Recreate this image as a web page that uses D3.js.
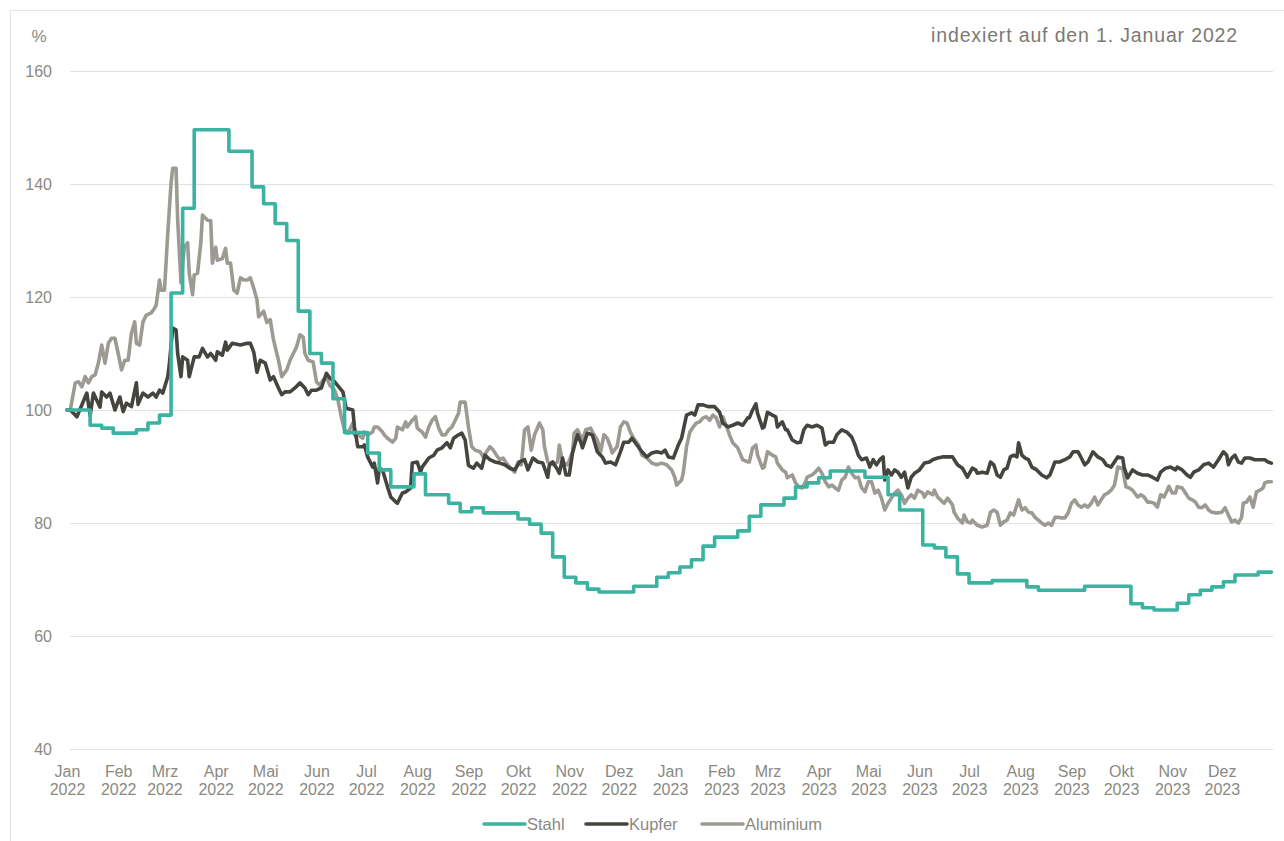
<!DOCTYPE html>
<html><head><meta charset="utf-8">
<script src="https://cdn.jsdelivr.net/npm/d3@7"></script>
<style>
body{margin:0;background:#fff;}
svg{display:block;font-family:"Liberation Sans",Arial,Helvetica,sans-serif;}
</style></head>
<body><svg id="chart" width="1284" height="841"></svg>
<script>
// ---- data ----
const monthNames = ["Jan","Feb","Mrz","Apr","Mai","Jun","Jul","Aug","Sep","Okt","Nov","Dez"];
const yTicks = [40,60,80,100,120,140,160];
const seriesNames = ["Stahl","Kupfer","Aluminium"];
const seriesColors = ["#3bb3a1","#46443f","#9c9a93"];
// Stahl: weekly values starting 2022-01-01
const stahlWeekly = [100,100,97.3,96.8,95.9,95.9,96.5,97.7,99.1,120.7,135.7,149.6,149.6,149.6,145.8,145.8,139.5,136.5,133,130,117.5,110,108.3,102,96,96,92.4,89.4,86.4,86.4,88.7,85,85,83.5,82,82.7,81.8,81.8,81.8,80.7,79.8,78.2,74,70.4,69.4,68.3,67.8,67.8,67.8,68.8,68.8,70.4,71.2,72.2,73.5,75.9,77.5,77.5,78.6,81.2,83.2,83.2,84.4,86.4,87.1,88,89.2,89.2,89.2,88.1,88.1,85,82.3,82.3,76.1,75.6,74,71,69.4,69.4,69.8,69.8,69.8,68.7,68.1,68.1,68.1,68.1,68.8,68.8,68.8,68.8,65.7,65,64.6,64.6,65.8,67.3,68.1,68.7,69.6,70.8,70.8,71.3,71.3];
// Kupfer / Aluminium: [days since 2022-01-01, index value]
const kupfer = [[0,100],[2,100],[6,98.8],[12,103],[14,99],[16,103],[20,100.5],[21,103.2],[24,102.3],[26,103],[29,100],[32,102.3],[34,99.7],[36,101.2],[39,100.6],[42,104.8],[43,101],[46,103],[49,102.3],[52,103],[54,102.3],[56,103.5],[58,103],[61,105.9],[62,108.3],[64,114.5],[66,114.2],[67,110],[69,105.9],[70,109.4],[73,108.8],[74,105.9],[77,109.4],[80,109.4],[82,110.9],[85,109.4],[87,110],[90,108.8],[91,110.3],[94,109.7],[96,112],[97,110.6],[100,111.8],[105,111.5],[109,111.8],[111,111.8],[113,110.3],[115,106.7],[117,108.8],[120,108.3],[123,105.3],[125,105.9],[128,103.9],[130,102.7],[132,103.2],[135,103.2],[138,103.9],[141,104.8],[144,103.9],[146,102.7],[148,103.5],[151,103.5],[154,103.9],[157,106.5],[159,105.7],[162,105],[165,103.9],[167,103.2],[169,100.3],[173,100],[174,97],[176,93.5],[179,93.5],[180,93.8],[182,91.7],[185,89.9],[186,90.6],[188,87.1],[189,89.7],[191,89.4],[194,86.4],[196,84.6],[199,83.7],[200,83.5],[203,85.3],[205,85.5],[208,86.2],[209,90.6],[212,90.8],[214,89],[215,89.9],[219,91.5],[222,92],[224,92.9],[227,93.3],[230,94.2],[232,93.3],[234,95],[237,95.6],[239,95.9],[241,94.7],[243,90.2],[246,89.7],[248,90.6],[251,89.7],[253,92],[256,91.2],[259,90.8],[262,90.6],[265,90.3],[268,89.7],[271,89.4],[274,90.8],[277,91.2],[279,89.4],[282,91.5],[285,90.8],[288,90.6],[291,88.1],[292,90.3],[294,90.8],[297,89.4],[298,88.8],[300,91.5],[302,88.5],[304,88.5],[306,92.4],[309,95.6],[311,94.3],[312,93.3],[315,95.9],[318,95.6],[321,92.6],[324,91.7],[326,90.6],[329,90.8],[332,90.3],[335,92.6],[337,94.3],[340,94.3],[342,95],[345,93.8],[348,92.6],[351,91.7],[354,92.4],[357,92.6],[360,92.4],[362,92.9],[364,91.7],[367,91.5],[370,93.8],[372,95],[375,99.1],[378,99.5],[380,99.1],[382,100.9],[385,100.9],[388,100.6],[392,100.6],[395,99.6],[397,97.7],[400,97],[403,97.3],[406,97.7],[409,97.3],[412,98.6],[413,98.6],[415,100],[417,101.1],[418,99.4],[421,96.8],[422,97],[424,99.6],[427,99.1],[429,98.8],[430,97],[433,97.9],[435,96.5],[436,96.5],[439,94.7],[442,94.2],[444,94.3],[446,96.5],[448,97.3],[451,97],[454,97.3],[457,96.8],[459,93.8],[461,94.3],[464,94.3],[466,95.6],[469,96.5],[472,96.1],[475,95.2],[477,93.8],[479,92],[481,91.2],[484,91.5],[486,89.9],[488,91.2],[490,90.3],[492,91.2],[494,91.7],[495,87.6],[497,89.4],[499,88.5],[501,89.4],[503,89],[505,88.1],[507,89],[509,86.2],[511,88.1],[513,88.8],[516,89.4],[519,90.6],[522,90.8],[524,91.2],[527,91.5],[530,91.7],[533,91.7],[536,91.7],[539,90.3],[542,89.7],[545,88.1],[548,89.7],[550,89.4],[551,88.8],[554,89],[557,88.8],[559,90.8],[561,90.3],[563,88.5],[565,88.1],[567,89.4],[569,89.7],[571,91.7],[573,92],[575,91.7],[576,94.2],[578,92],[580,91.5],[582,91.2],[584,89.9],[587,89.4],[590,88.5],[593,88],[595,88.5],[598,90.8],[601,90.8],[604,91.2],[607,91.7],[609,92.6],[612,92.6],[614,91.5],[616,90.3],[618,90.8],[621,92.6],[624,91.7],[627,91.2],[629,90.3],[632,89.9],[634,90.8],[636,91.7],[639,91.5],[640,89.7],[642,88],[645,89.4],[648,88.8],[651,88.5],[654,88.5],[657,88.1],[660,87.6],[662,89],[665,89.7],[668,89.9],[671,89.4],[672,89.9],[675,89.4],[678,88.5],[680,88.1],[682,89],[685,89.4],[688,90.3],[691,90.6],[694,89.9],[697,91.2],[700,92.6],[702,92],[703,90.3],[705,91.5],[707,92],[709,90.8],[711,90.6],[713,91.5],[716,91.5],[719,91.2],[722,91.2],[725,91.2],[727,90.8],[729,90.6]];
const aluminium = [[0,100],[2,100],[5,104.8],[7,105],[9,104.1],[11,105.9],[13,104.8],[15,105.9],[17,106.2],[19,108.3],[21,111.5],[23,108.3],[25,111.8],[27,112.7],[29,112.7],[31,110],[33,107.1],[35,108.8],[37,108.8],[39,113.6],[41,115.6],[42,111.8],[44,111.5],[46,115.6],[48,116.8],[51,117.2],[53,118],[54,118.6],[56,123],[57,121.2],[59,121.2],[61,131.3],[63,140.2],[64,142.8],[66,142.8],[67,133.6],[69,122.5],[71,128.8],[73,129.6],[74,124.2],[76,120.4],[77,123.9],[79,124.2],[81,129.6],[82,134.5],[85,133.6],[87,133.5],[88,126],[90,128.8],[91,126.5],[94,126.8],[96,128.6],[97,126],[99,126],[101,121.2],[103,120.7],[105,123.4],[107,123],[109,123],[111,123.4],[113,121.6],[115,119.5],[116,116.5],[119,117.5],[121,115.5],[123,116],[125,112.4],[128,108.8],[130,105.9],[133,107.1],[135,108.8],[137,110],[139,111.2],[141,113.3],[143,112.9],[144,110],[146,108.8],[149,108.5],[151,105],[153,104.4],[155,105.3],[157,105.9],[159,104.4],[162,103.5],[164,101.8],[166,98.8],[168,96.5],[170,95.9],[173,97.7],[174,95.6],[176,95.6],[179,95],[180,96.1],[182,95.6],[185,96.1],[186,97],[188,97],[191,96.1],[192,95.6],[194,95],[197,94.3],[199,95],[200,97],[203,96.5],[205,97.9],[206,97],[209,98.2],[211,98.8],[212,96.8],[215,96.1],[217,95.2],[219,97],[221,98.2],[223,98.8],[225,96.8],[227,95.6],[229,95.6],[231,96.5],[233,97],[235,98.2],[237,99.4],[238,101.4],[241,101.4],[243,97],[245,93.5],[247,92.9],[250,92.6],[252,91.7],[254,92.6],[256,93.5],[258,92.9],[260,92],[262,91.2],[264,91.5],[266,90.6],[268,89.9],[271,89],[273,90.8],[275,90.3],[277,96.5],[279,97],[281,92.9],[283,95.6],[286,97.7],[288,96.5],[289,93.5],[291,90.8],[294,90.3],[297,90.8],[298,93.8],[300,90.8],[303,90.3],[306,92.6],[307,95.9],[309,96.5],[312,94.7],[314,96.5],[317,96.8],[318,96.1],[321,94.7],[323,92.6],[325,95.6],[327,95],[329,93.5],[330,92.4],[333,93.5],[335,97],[337,97.9],[339,97.7],[341,96.1],[343,95],[346,93.8],[348,92],[351,91.5],[354,90.6],[357,90.3],[360,90.6],[363,90.3],[366,89.4],[368,88],[369,86.7],[372,87.6],[373,88.8],[375,93.5],[377,96.1],[379,97],[381,97.7],[383,97.9],[385,98.6],[387,98.8],[389,98.2],[391,99.1],[393,98.6],[395,97],[397,98.8],[400,96.5],[401,95.6],[403,94.2],[406,93.3],[407,92.6],[409,91.2],[412,90.8],[413,90.8],[415,93.3],[417,93.8],[418,92],[421,89.7],[422,89.9],[424,92.6],[427,92],[429,91.7],[430,90.6],[433,89.4],[435,89],[436,88],[439,88.5],[441,87.1],[443,86.4],[445,86.2],[447,87.3],[448,88.1],[451,88.5],[453,89],[455,89.7],[457,88.8],[459,87.3],[461,86.4],[463,86.7],[465,86.2],[467,85.8],[469,87.6],[471,88.1],[473,89.9],[475,88.8],[477,88],[479,88.1],[481,86.2],[483,85.5],[485,87.3],[487,87.3],[489,85.3],[491,85.8],[493,84.4],[495,82.3],[497,83.5],[499,84.4],[501,85.3],[503,85.8],[505,85],[507,83.5],[509,84.4],[511,85],[513,84.4],[515,85.8],[518,85.3],[519,84.6],[521,85.5],[524,85],[525,85.8],[527,84.6],[530,83.7],[531,83.5],[533,84.4],[536,83.2],[537,81.9],[539,80.9],[542,80],[543,81.4],[545,80.2],[547,80],[548,80.5],[551,79.6],[554,79.3],[557,79.6],[559,81.9],[561,82.3],[563,81.9],[565,79.6],[567,80.2],[569,80.5],[571,81.8],[573,81.4],[574,82.3],[576,84.1],[578,82.3],[580,82.7],[582,81.9],[584,81.8],[586,81],[588,80.5],[590,80],[592,79.6],[594,80],[596,79.6],[598,81],[600,81],[602,80.9],[604,80.9],[606,81.8],[608,83.5],[610,84.1],[612,83.2],[614,82.8],[616,83.2],[618,82.8],[620,83.5],[622,84.6],[624,83.2],[626,84.1],[628,85],[630,85.3],[632,85.8],[634,86.7],[635,88.1],[636,89.9],[639,89.7],[640,88],[641,86.4],[643,86.2],[645,85.8],[648,84.6],[650,85],[652,84.6],[654,83.7],[656,83.7],[658,83.5],[660,82.8],[662,85],[664,84.6],[666,85.8],[667,86.5],[669,85.3],[671,85.3],[672,86.4],[675,86.2],[677,85.3],[679,84.4],[681,84.1],[683,83.7],[685,82.8],[687,82.7],[689,83.2],[691,82.3],[693,81.9],[695,81.8],[697,81.8],[699,81.9],[701,82.7],[703,81.4],[705,80.2],[707,80.5],[709,80],[711,81],[712,83.5],[714,83.7],[716,84.6],[718,82.8],[720,85.5],[722,85.8],[724,86.2],[725,87.1],[727,87.3],[729,87.3]];

// ---- chart ----
const svg = d3.select("#chart");
const start = new Date(2022,0,1), end = new Date(2024,0,1);
const dayMs = 864e5;
const toDate = d => new Date(start.getTime() + d*dayMs);
const x = d3.scaleTime().domain([start,end]).range([67,1273]);
const y = d3.scaleLinear().domain([40,160]).range([749,71]);
const textColor = "#8a8982";

// frame
svg.append("rect").attr("x",10.5).attr("y",10.5).attr("width",1300).attr("height",860)
  .attr("fill","none").attr("stroke","#e4e4e4").attr("stroke-width",1);

// y grid + labels
const yAxis = svg.append("g").attr("transform","translate(70,0)")
  .call(d3.axisRight(y).tickValues(yTicks).tickSize(1203).tickFormat(d3.format("d")));
yAxis.select(".domain").remove();
yAxis.selectAll(".tick line").attr("stroke","#e1e1e1").attr("stroke-width",1);
yAxis.selectAll(".tick text").attr("x",-18).attr("text-anchor","end").attr("fill",textColor)
  .attr("font-size",16).attr("dy","0.35em");

// x axis labels
const months = d3.timeMonth.range(start, new Date(2023,11,2));
const xAxis = svg.append("g").attr("transform","translate(0,749)")
  .call(d3.axisBottom(x).tickValues(months).tickSize(0).tickFormat(""));
xAxis.select(".domain").remove();
xAxis.selectAll(".tick").each(function(d){
  const t = d3.select(this).append("text").attr("fill",textColor).attr("font-size",16)
    .attr("text-anchor","middle");
  t.append("tspan").attr("x",0).attr("y",28).text(monthNames[d.getMonth()]);
  t.append("tspan").attr("x",0).attr("y",46).text(d.getFullYear());
});

// lines
const lineG = svg.append("g").attr("fill","none").attr("stroke-width",3.6)
  .attr("stroke-linejoin","round").attr("stroke-linecap","round");
const stahlLine = d3.line().curve(d3.curveStepAfter)
  .x(d=>x(toDate(d[0]))).y(d=>y(d[1]));
const stahlData = stahlWeekly.map((v,i)=>[i*7,v]);
stahlData.push([729, stahlWeekly[stahlWeekly.length-1]]);
const lin = d3.line().x(d=>x(toDate(d[0]))).y(d=>y(d[1]));

lineG.append("path").attr("d",lin(aluminium)).attr("stroke",seriesColors[2]);
lineG.append("path").attr("d",lin(kupfer)).attr("stroke",seriesColors[1]);
lineG.append("path").attr("d",stahlLine(stahlData)).attr("stroke",seriesColors[0]);

// texts
svg.append("text").attr("x",39).attr("y",42).attr("text-anchor","middle")
  .attr("fill",textColor).attr("font-size",17).text("%");
svg.append("text").attr("x",1238).attr("y",42).attr("text-anchor","end")
  .attr("fill","#7b7a74").attr("font-size",19.5).attr("letter-spacing",0.85)
  .text("indexiert auf den 1. Januar 2022");

// legend
const legX = [484,586,702];
const leg = svg.append("g").attr("transform","translate(0,824)");
seriesNames.forEach((n,i)=>{
  leg.append("line").attr("x1",legX[i]).attr("x2",legX[i]+41).attr("y1",0).attr("y2",0)
    .attr("stroke",seriesColors[i]).attr("stroke-width",3.6).attr("stroke-linecap","round");
  leg.append("text").attr("x",legX[i]+43).attr("y",0).attr("dy","0.35em")
    .attr("fill",textColor).attr("font-size",16.5).text(n);
});
</script></body></html>
